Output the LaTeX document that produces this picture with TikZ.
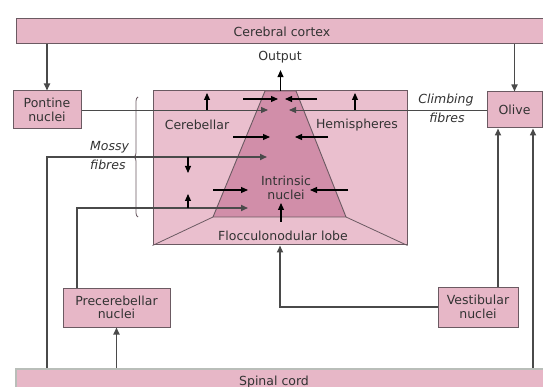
\documentclass[tikz,border=0pt]{standalone}
\usepackage{fontspec}
\setmainfont{DejaVu Sans}
\usetikzlibrary{arrows.meta,decorations.pathreplacing}
\definecolor{boxpink}{HTML}{E7B7C7}
\definecolor{lobepink}{HTML}{EABFCE}
\definecolor{nucpink}{HTML}{D18EA9}
\definecolor{edge}{HTML}{6B5A62}
\definecolor{wire}{HTML}{4A4A4A}
\definecolor{ink}{HTML}{333333}
\definecolor{cordedge}{HTML}{B9BEB9}

\begin{document}
\begin{tikzpicture}[x=1pt,y=-1pt,
  every node/.style={font=\fontsize{12.5}{13.5}\selectfont, text=ink, inner sep=0pt},
  box/.style={draw=edge, line width=1pt, fill=boxpink, align=center},
  tip/.style={-{Triangle[length=7pt,width=6pt]}},
  fibre/.style={draw=wire, line width=1.6pt},
  thinwire/.style={draw=wire, line width=0.9pt},
  inner/.style={draw=black, line width=1.1pt, tip},
  slanted/.style={font=\fontsize{12.5}{13.5}\selectfont\itshape}
]
\useasboundingbox (0,0) rectangle (543,387);
\fill[white] (0,0) rectangle (543,387);

% --- top bar and relay nuclei
\node[box, minimum width=532pt, minimum height=25pt] (cortex) at (282,31.5) {Cerebral cortex};
\node[box, minimum width=68pt, minimum height=38pt] (pontine) at (47,110) {Pontine\\nuclei};
\node[box, minimum width=55pt, minimum height=36pt] (olive) at (514.5,110) {Olive};

% --- cerebellum block
\node[box, fill=lobepink, minimum width=254pt, minimum height=154pt] (cbm) at (280,168) {};
\coordinate (tl) at (265,91);
\coordinate (tr) at (296,91);
\coordinate (br) at (346,217);
\coordinate (bl) at (213,217);
\draw[edge, line width=0.9pt, fill=nucpink] (tl) -- (tr) -- (br) -- (bl) -- cycle;
\draw[edge, line width=0.8pt] (bl) -- (cbm.south west);
\draw[edge, line width=0.8pt] (br) -- (cbm.south east);

\node (cer) at (197,125) {Cerebellar};
\node (hem) at (357,125) {Hemispheres};
\node[align=center] (intr) at (286,188) {Intrinsic\\nuclei};
\node (floc) at (283,236) {Flocculonodular lobe};

% --- lower nuclei and spinal cord
\node[box, minimum width=107pt, minimum height=39pt] (precb) at (116.5,307.5) {Precerebellar\\nuclei};
\node[box, minimum width=80pt, minimum height=40pt] (vest) at (478,307) {Vestibular\\nuclei};
\node[box, draw=cordedge, line width=2pt, minimum width=544pt, minimum height=31pt] (spinal) at (288,384.5) {};
\node (spinaltxt) at (274,382) {Spinal cord};

% --- labels
\node (output) at (280,57) {Output};
\node[slanted] (climb) at (446,100) {Climbing};
\node[slanted] (climb2) at (447,118) {fibres};
\node[slanted, anchor=west] (mossy) at (90,147) {Mossy};
\node[slanted, anchor=west] (mossy2) at (90,165) {fibres};
\draw[edge, line width=0.8pt, decorate, decoration={brace, amplitude=4pt}] (138,217) -- (138,97);

% --- descending arrows from cortex
\draw[fibre, tip] (cortex.south -| pontine.north) -- (pontine.north);
\draw[fibre, tip] (cortex.south -| olive.north) -- (olive.north);

% --- climbing and pontine fibres
\coordinate (pe) at (268,110);
\coordinate (oe) at (289,110);
\draw[thinwire, tip] (pontine.east) -- (pe);
\draw[thinwire, tip] (olive.west) -- (oe);

% --- mossy fibres from spinal cord and precerebellar nuclei
\coordinate (mossA) at (267,157);
\coordinate (mossB) at (248,208);
\draw[fibre, tip] (spinal.north -| pontine.center) |- (mossA);
\draw[fibre, tip] ([xshift=-39.5pt]precb.north) |- (mossB);
\draw[fibre, tip] (spinal.north -| precb.south) -- (precb.south);

% --- ascending paths to the olive and the flocculonodular lobe
\coordinate (oliveR) at ([xshift=18.5pt]olive.south);
\coordinate (oliveL) at ([xshift=-16.5pt]olive.south);
\draw[fibre, tip] (spinal.north -| oliveR) -- (oliveR);
\draw[fibre, tip] (vest.north -| oliveL) -- (oliveL);
\draw[fibre, tip] (vest.west) -| (cbm.south);

% --- output of the intrinsic nuclei
\coordinate (ttop) at (280.5,91);
\draw[inner, shorten >=7pt] (ttop) -- (ttop |- output.south);

% --- internal projections
\draw[inner] (243,99) -- (278,99);
\draw[inner] (317,99) -- (285,99);
\draw[inner] (207,110) -- (207,93);
\draw[inner] (355,110) -- (355,93);
\draw[inner] (233,137) -- (270,137);
\draw[inner] (328,137) -- (295,137);
\draw[inner] (188,157) -- (188,173);
\draw[inner] (213,190) -- (248,190);
\draw[inner] (348,190) -- (310,190);
\draw[inner] (188,208) -- (188,194);
\draw[inner] (281,222) -- (281,203);
\end{tikzpicture}
\end{document}
